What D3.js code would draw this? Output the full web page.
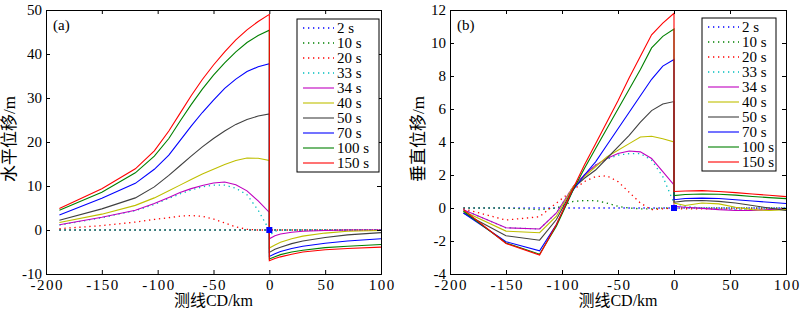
<!DOCTYPE html>
<html lang="zh"><head>
<meta charset="utf-8">
<title>位移</title>
<script src="https://cdn.jsdelivr.net/npm/d3@7"></script>
<style>
body { margin: 0; background: #fff; }
text { font-family: "Liberation Serif", "Times New Roman", "Noto Sans CJK SC", serif; }
</style>
</head>
<body>
<script type="text/javascript">

var width = 800;
var height = 313;

// legend labels, drawn in this order (2 s first, 150 s on top)
var seriesNames = ["2 s", "10 s", "20 s", "33 s", "34 s", "40 s", "50 s", "70 s", "100 s", "150 s"];
var seriesColors = ["#0000ff", "#008000", "#ff0000", "#00bfbf", "#bf00bf", "#bfbf00", "#404040", "#0000ff", "#008000", "#ff0000"];
var seriesDotted = [true, true, true, true, false, false, false, false, false, false];

var xTicks = [-200, -150, -100, -50, 0, 50, 100];
var yTicksA = [-10, 0, 10, 20, 30, 40, 50];
var yTicksB = [-4, -2, 0, 2, 4, 6, 8, 10, 12];

// (a) horizontal displacement, west of the trench (km)
var xLeftA = [-188, -150, -120, -103, -90, -80, -70, -60, -50, -40, -30, -20, -10, 0];
var horizLeft = [
    [0, 0, 0, 0, 0, 0, 0, 0, 0, 0, 0, 0, 0, 0],
    [0, 0, 0, 0, 0, 0, 0, 0, 0, 0, 0, 0, 0, 0],
    [0.3, 1.0, 1.8, 2.4, 2.8, 3.15, 3.3, 3.1, 2.5, 1.6, 0.7, 0.15, 0, 0],
    [1.1, 2.8, 4.4, 5.8, 7.2, 8.2, 9.1, 9.8, 10.2, 10.2, 9.5, 8.0, 4.5, 0],
    [1.2, 2.9, 4.5, 6.0, 7.4, 8.5, 9.4, 10.1, 10.7, 10.9, 10.3, 8.9, 6.6, 4.0],
    [1.7, 3.6, 5.6, 7.3, 8.9, 10.2, 11.5, 12.7, 13.8, 14.9, 15.8, 16.35, 16.3, 15.8],
    [2.2, 4.8, 7.3, 9.8, 12.4, 14.6, 16.8, 18.9, 20.8, 22.5, 24.0, 25.1, 25.9, 26.4],
    [3.4, 7.2, 10.6, 13.8, 17.0, 20.3, 23.6, 26.7, 29.5, 32.2, 34.3, 36.0, 37.1, 37.8],
    [4.5, 8.6, 13.0, 16.8, 20.8, 24.7, 28.5, 32.0, 35.2, 38.0, 40.5, 42.6, 44.2, 45.4],
    [4.9, 9.4, 13.9, 18.0, 22.5, 26.5, 30.5, 34.2, 37.5, 40.5, 43.2, 45.5, 47.4, 49.0]
];
// (a) east of the trench
var xRightA = [0, 5, 10, 20, 30, 50, 70, 100];
var horizRight = [
    [0, 0, 0, 0, 0, 0, 0, 0],
    [0, 0, 0, 0, 0, 0, 0, 0],
    [0, 0, 0, 0, 0, 0, 0, 0],
    [-1.2, -0.3, -0.05, 0, 0, 0, 0, 0],
    [-2.0, -1.3, -0.9, -0.5, -0.3, -0.1, 0, 0],
    [-4.1, -3.4, -2.8, -2.0, -1.4, -0.7, -0.3, -0.1],
    [-5.1, -4.4, -3.9, -3.1, -2.5, -1.7, -1.1, -0.6],
    [-6.0, -5.4, -4.9, -4.2, -3.7, -3.0, -2.5, -2.0],
    [-6.6, -6.1, -5.6, -5.0, -4.6, -4.0, -3.7, -3.3],
    [-7.0, -6.5, -6.1, -5.5, -5.0, -4.5, -4.2, -3.9]
];

// (b) vertical displacement
var xLeftB = [-188, -150, -120, -105, -90, -80, -70, -60, -50, -40, -30, -20, -10, 0];
var vertLeft = [
    [0, 0, 0, 0, 0, 0, 0, 0, 0, 0, 0, 0, 0, 0],
    [0, 0, -0.1, 0, 0.4, 0.45, 0.45, 0.3, 0.1, 0, -0.05, -0.05, 0, 0],
    [-0.05, -0.73, -0.53, 0.3, 1.1, 1.6, 1.9, 1.95, 1.6, 0.95, 0.3, -0.1, -0.05, 0],
    [-0.1, -1.2, -1.27, -0.3, 1.3, 2.0, 2.6, 2.95, 3.2, 3.3, 3.3, 2.9, 1.9, 0.3],
    [-0.1, -1.2, -1.27, -0.3, 1.3, 2.0, 2.6, 3.0, 3.3, 3.45, 3.4, 3.0, 2.2, 1.4],
    [-0.2, -1.4, -1.5, -0.5, 1.3, 1.9, 2.5, 3.1, 3.5, 3.9, 4.3, 4.35, 4.2, 4.0],
    [-0.3, -1.68, -1.95, -0.7, 1.2, 1.8, 2.3, 3.0, 3.7, 4.4, 5.2, 5.9, 6.3, 6.45],
    [-0.3, -2.04, -2.6, -1.0, 1.1, 2.0, 2.8, 3.8, 4.8, 5.8, 6.8, 7.8, 8.6, 9.0],
    [-0.2, -2.12, -2.8, -1.1, 1.1, 2.4, 3.6, 4.8, 6.0, 7.2, 8.4, 9.7, 10.4, 10.85],
    [-0.1, -2.15, -2.85, -1.0, 1.2, 2.6, 3.9, 5.2, 6.5, 7.9, 9.2, 10.5, 11.2, 11.8]
];
var xRightB = [0, 10, 25, 40, 55, 70, 85, 100];
var vertRight = [
    [0, 0, 0, 0, 0, 0, 0, 0],
    [0, 0, 0, 0, 0, 0, 0, 0],
    [-0.05, -0.05, -0.05, -0.05, -0.05, -0.05, -0.05, -0.05],
    [0.3, 0.1, 0.0, -0.05, -0.1, -0.1, -0.05, 0],
    [0.1, 0.05, -0.02, -0.1, -0.15, -0.15, -0.1, -0.05],
    [0.3, 0.15, 0.3, 0.25, 0.05, -0.1, -0.15, -0.1],
    [0.35, 0.43, 0.45, 0.4, 0.3, 0.15, 0.0, -0.15],
    [0.5, 0.58, 0.6, 0.58, 0.5, 0.42, 0.35, 0.27],
    [0.75, 0.82, 0.85, 0.83, 0.78, 0.7, 0.63, 0.57],
    [1.0, 1.03, 1.05, 1.0, 0.93, 0.85, 0.77, 0.69]
];


var svg = d3.select("body").append("svg")
            .attr("width", width)
            .attr("height", height)
            .style("background", "#fff");

function drawPanel(p) {
    var x = d3.scaleLinear().domain([-200, 100]).range([p.left, p.right]);
    var y = d3.scaleLinear().domain(p.yDomain).range([p.bottom, p.top]);
    var g = svg.append("g");

    var line = d3.line()
        .x((d) => x(d[0]))
        .y((d) => y(d[1]));

    seriesNames.forEach((name, i) => {
        var pts = p.xLeft.map((xv, j) => [xv, p.leftVals[i][j]])
            .concat(p.xRight.map((xv, j) => [xv, p.rightVals[i][j]]));
        g.append("path")
            .attr("d", line(pts))
            .attr("fill", "none")
            .attr("stroke", seriesColors[i])
            .attr("stroke-width", seriesDotted[i] ? 1.3 : 1.1)
            .attr("stroke-dasharray", seriesDotted[i] ? "1.3,3.7" : null);
    });

    // blue square at origin
    g.append("rect")
        .attr("x", x(0) - 3).attr("y", y(0) - 3)
        .attr("width", 6).attr("height", 6)
        .attr("fill", "#0000ff");

    // axes, MATLAB style: inward ticks on all four sides
    var fmt = (d) => String(d);
    var bx = g.append("g").attr("transform", "translate(0," + p.bottom + ")")
        .call(d3.axisBottom(x).tickValues(xTicks).tickSize(-4).tickPadding(5).tickFormat(fmt));
    g.append("g").attr("transform", "translate(0," + p.top + ")")
        .call(d3.axisTop(x).tickValues(xTicks).tickSize(-4).tickFormat(""));
    g.append("g").attr("transform", "translate(" + p.left + ",0)")
        .call(d3.axisLeft(y).tickValues(p.yTicks).tickSize(-4).tickPadding(4).tickFormat(fmt));
    g.append("g").attr("transform", "translate(" + p.right + ",0)")
        .call(d3.axisRight(y).tickValues(p.yTicks).tickSize(-4).tickFormat(""));

    g.selectAll(".domain").attr("stroke", "#000").attr("stroke-width", 1);
    g.selectAll(".tick line").attr("stroke", "#000");
    g.selectAll(".tick text").attr("font-size", 15).attr("fill", "#000")
        .style("font-family", "'Liberation Serif', 'Times New Roman', serif");
    g.selectAll("g").attr("font-family", null);
    // x tick labels in the reference are a little wider
    bx.selectAll(".tick text").style("letter-spacing", "1.5px").attr("dx", "0.75");

    // panel tag
    g.append("text")
        .attr("x", p.left + 7).attr("y", p.top + 20)
        .attr("font-size", 15)
        .text(p.tag);

    // axis titles
    g.append("text")
        .attr("x", (p.left + p.right) / 2).attr("y", 306)
        .attr("text-anchor", "middle")
        .attr("font-size", 16)
        .text("测线CD/km");
    g.append("text")
        .attr("transform", "translate(" + p.yLabelX + "," + ((p.top + p.bottom) / 2 - 3) + ") rotate(-90)")
        .attr("text-anchor", "middle")
        .attr("font-size", 17)
        .text(p.yLabel);

    // legend
    var lg = g.append("g");
    lg.append("rect")
        .attr("x", p.legX).attr("y", p.legY)
        .attr("width", p.legW).attr("height", 153)
        .attr("fill", "#fff").attr("stroke", "#000").attr("stroke-width", 1);
    seriesNames.forEach((name, i) => {
        var cy = p.legY + 9 + i * 15;
        lg.append("line")
            .attr("x1", p.legX + 6).attr("x2", p.legX + 37)
            .attr("y1", cy).attr("y2", cy)
            .attr("stroke", seriesColors[i])
            .attr("stroke-width", seriesDotted[i] ? 1.3 : 1.1)
            .attr("stroke-dasharray", seriesDotted[i] ? "1.3,3.7" : null);
        lg.append("text")
            .attr("x", p.legX + 40).attr("y", cy + 5)
            .attr("font-size", 15)
            .text(name);
    });
}

drawPanel({
    left: 46, right: 381, top: 10, bottom: 274,
    yDomain: [-10, 50], yTicks: yTicksA,
    xLeft: xLeftA, leftVals: horizLeft, xRight: xRightA, rightVals: horizRight,
    tag: "(a)", yLabel: "水平位移/m", yLabelX: 15,
    legX: 297, legY: 19, legW: 82
});

drawPanel({
    left: 450, right: 786, top: 10, bottom: 274,
    yDomain: [-4, 12], yTicks: yTicksB,
    xLeft: xLeftB, leftVals: vertLeft, xRight: xRightB, rightVals: vertRight,
    tag: "(b)", yLabel: "垂直位移/m", yLabelX: 424,
    legX: 702, legY: 18, legW: 74
});

</script>
</body></html>
